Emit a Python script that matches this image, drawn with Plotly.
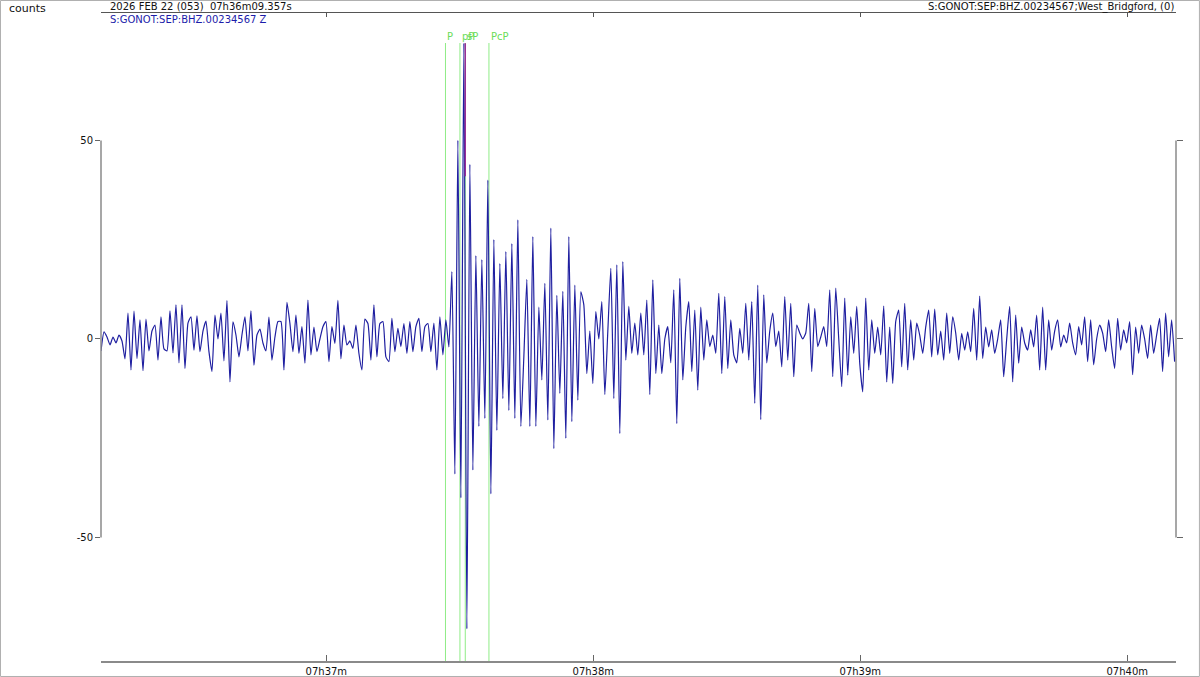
import plotly.graph_objects as go

# ---------------- data ----------------
start_label = "2026 FEB 22 (053)  07h36m09.357s"
station_label = "S:GONOT:SEP:BHZ.00234567 Z"
station_right = "S:GONOT:SEP:BHZ.00234567;West_Bridgford, (0)"
y_unit = "counts"
start_sec = 9.357          # seconds past 07h36m
dt = 0.674                 # sample interval (s)

counts_pre = [-3, 1.8, 0.5, -1.5, 0.5, -1, 1, -0.5, -5, 6.5,
              -7.8, 7, -4.9, 4.8, -8, 5, -3, 2, 3.5, -5.3,
              5.6, -2.5, -3, 7.1, -3.5, 8.6, -6, 8.6, -7.4, 4,
              5.6, -2.8, 5.8, -3.2, 2, 4.5, -3.2, -8.2, 6, 0,
              6.5, -5.5, 9.7, -10.8, 4.3, 1, -4.5, 1, 5.6, -3,
              7.1, -6.6, 1, 2.5, -1, -3, 5.5, -5.3, 0.5, 4.4]
counts_onset = [4.4, -7.8, 9.2, 3.9, -3.2, 6, -3.6, 3.1, -6.1, 9.8,
                -4, 3, -3.2, 0, 3.1, 4.4, -5.7, 3.1, -1.1, 9.7,
                -5, 3.5, -1.5, -0.5, -2.4, 3.5, -3.6, -7.8, 5, 3.9,
                -5.3, 8.6, -4.5, 3.9, 4.4, -4.5, -5.7, 5.2, -3.2, 2.7,
                -1.9, 3.9, -3.6, 4.4, -3.2, 3.1, 5.2, -3.2, 3.1, 3.9,
                -3.2, 4, -7.8, 5.6, -4, 4.8]
counts_burst = [-2, 17, -34, 50, -40, 74.5, -73, 44, -33, 21,
                -22, 20, -20, 40, -39, 25, -23, 19, -15, 22,
                -18, 24, -20, 30, -22]
counts_coda1 = [-4.5, 15, -22, 25.8, -22, 8, -10.3, 14, -20.4, 27.9,
                -27.6, 11, -13.7, 12, -25, 25.8, -20.8, 13.6, -15.4, 11.9,
                8.6, -8.7, 2, -11.2, 6.9, 0, 9.4, -14, 2, 17.8,
                -15, 18.7, -23.8, 19.5, -5.3, 8.2, -3.6, 4, -4, 6.5,
                -4, 9.8, -14, 14.9, -8.7, 3.5, -8.7, 0, 3.1, -6,
                12.4, -21.3, 15.3, -10.3, 3, 9.4, -8.2, 7.3, -12.9]
counts_coda2 = [8, -5.3, 4.8, -1.9, 1, -3.6, 11.5, -8.7, 10.7, -7.4,
                4.8, -4, -6, 2.7, -3.6, 9, -5.3, 9.4, -16.2, 13.6,
                -20.3, 11.1, -6, 2, 6.5, -1.9, 2, -7, 10.7, -5.3,
                9, -9.5, 3.5, 1.5, 0, 1.5, 9, -8.2, 7.7, -1.9,
                0.5, 3.1, -1.9, 12.4, -9.5, 12.8, 0, -12, 10.3, -9.1,
                5.6, -3.6, 8.2, -6.1, -13.3, 10.3, -7.8, 4.8, -3.6, 3]
counts_coda3 = [-4, 8.3, -10.8, 3, -11.2, 4.4, 7.3, -7, 9, -7.8,
                4.8, -5.3, 4, 1, -3.6, 3, 7.3, -4.5, 7.5, -4,
                2, -5.3, 6.5, -3.6, 5.6, 1.5, -5.3, 1.4, -2.8, 1.8,
                -3.2, 7.7, -5.3, 10.8, -4.9, 3, -2, 2.3, -3.6, 0,
                4.8, -9.5, 0, 8.2, -10.8, 6, -6.1, 3, -1, -2.8,
                2.3, -2, 6, -7.8, 8, -7.8, 4.8, -2.8, 2, 4.8]
counts_tail = [-2, 1, -1, 4, -1, -4, 3.1, -1.5, 5.6, -5.7,
               4.8, -6.5, 0, 3.5, 1.5, -3.2, 4.8, -2, -7.4, 5.2,
               -2.8, 2.3, -1, 4.4, -9, 3, -3.6, 3.5, 0, -4.9,
               3.5, -3.6, 1, 5.2, -8.2, 6.5, -4.5, 4.8, -5.7]

pick_names = ["P", "pP", "sP", "PcP"]
pick_times = [77.42, 80.67, 81.87, 87.19]   # seconds after start

tick_minutes = [37, 38, 39, 40]
tick_labels = ["07h37m", "07h38m", "07h39m", "07h40m"]
y_ticks = [-50, 0, 50]
y_tick_labels = ["-50", "0", "50"]
x_end = 241.6
y_range = [-81.1, 82.1]

# --------------- build ----------------
counts = counts_pre + counts_onset + counts_burst + counts_coda1 + counts_coda2 + counts_coda3 + counts_tail
times = [i * dt for i in range(len(counts))]
tick_vals = [(m - 36) * 60 - start_sec for m in tick_minutes]

FONT = "DejaVu Sans"
TRACE = "#1f1fa0"
GREEN_LINE = "#8fec86"
GREEN_TEXT = "#6bdc58"

fig = go.Figure()
fig.add_trace(go.Scatter(x=times, y=counts, mode="lines",
                         line=dict(color=TRACE, width=1.2, shape="spline", smoothing=0.5),
                         hoverinfo="skip", showlegend=False))
peak = max(counts)
fig.add_trace(go.Scatter(x=[pick_times[2], pick_times[2]], y=[peak, peak * 0.55],
                         mode="lines", line=dict(color="#9a2f96", width=1.5),
                         xaxis="x2", yaxis="y2", showlegend=False, hoverinfo="skip"))

shapes = []
for tp in pick_times:
    shapes.append(dict(type="line", xref="x", yref="paper", x0=tp, x1=tp, y0=0, y1=0.9537,
                       line=dict(color=GREEN_LINE, width=1), layer="below"))
# bracket-style y axis lines
for xp in (0, 1):
    shapes.append(dict(type="line", xref="paper", yref="y", x0=xp, x1=xp,
                       y0=min(y_ticks), y1=max(y_ticks), line=dict(color="#8a8a8a", width=1.5)))
# outer frame
shapes.append(dict(type="rect", xref="paper", yref="paper", x0=-0.0935, x1=1.0218,
                   y0=-0.0239, y1=1.0193, line=dict(color="#b0b0b0", width=1)))

annotations = []
for name, tp in zip(pick_names, pick_times):
    annotations.append(dict(x=tp, y=0.9645, xref="x", yref="paper", text=name, showarrow=False,
                            xanchor="left", yanchor="middle", xshift=0,
                            font=dict(family=FONT, size=10, color=GREEN_TEXT)))
annotations += [
    dict(x=-0.0874, y=1.0062, xref="paper", yref="paper", text=y_unit, showarrow=False,
         xanchor="left", yanchor="middle", font=dict(family=FONT, size=11, color="#111")),
    dict(x=0.0065, y=1.0093, xref="paper", yref="paper", text=start_label, showarrow=False,
         xanchor="left", yanchor="middle", font=dict(family=FONT, size=10, color="#111")),
    dict(x=0.0065, y=0.990, xref="paper", yref="paper", text=station_label, showarrow=False,
         xanchor="left", yanchor="middle", font=dict(family=FONT, size=10, color="#1c1caa")),
    dict(x=1.0, y=1.0093, xref="paper", yref="paper", text=station_right, showarrow=False,
         xanchor="right", yanchor="middle", font=dict(family=FONT, size=10, color="#111")),
]

fig.update_layout(
    width=1200, height=677, autosize=False,
    margin=dict(l=101, r=24, t=13, b=16, pad=0),
    paper_bgcolor="white", plot_bgcolor="white",
    shapes=shapes, annotations=annotations,
    xaxis=dict(range=[0, x_end], showgrid=False, zeroline=False, showline=True,
               linecolor="#8a8a8a", linewidth=2, ticks="inside", ticklen=6, tickwidth=1,
               tickcolor="#666", tickvals=tick_vals, ticktext=tick_labels,
               tickfont=dict(family=FONT, size=10, color="#111"), automargin=False),
    xaxis2=dict(range=[0, x_end], overlaying="x", side="top", showgrid=False, zeroline=False,
                showline=True, linecolor="#555", linewidth=1, ticks="inside", ticklen=4,
                tickcolor="#555", tickvals=tick_vals, showticklabels=False, automargin=False),
    yaxis=dict(range=y_range, showgrid=False, zeroline=False, showline=False,
               ticks="outside", ticklen=5, tickwidth=1, tickcolor="#666",
               tickvals=y_ticks, ticktext=y_tick_labels,
               tickfont=dict(family=FONT, size=10, color="#111"), automargin=False),
    yaxis2=dict(range=y_range, overlaying="y", side="right", showgrid=False, zeroline=False,
                showline=False, ticks="outside", ticklen=6, tickcolor="#666",
                tickvals=y_ticks, showticklabels=False, automargin=False),
)

fig.write_html("out.html", config={"displayModeBar": False},
               post_script="document.body.style.margin='0';")
